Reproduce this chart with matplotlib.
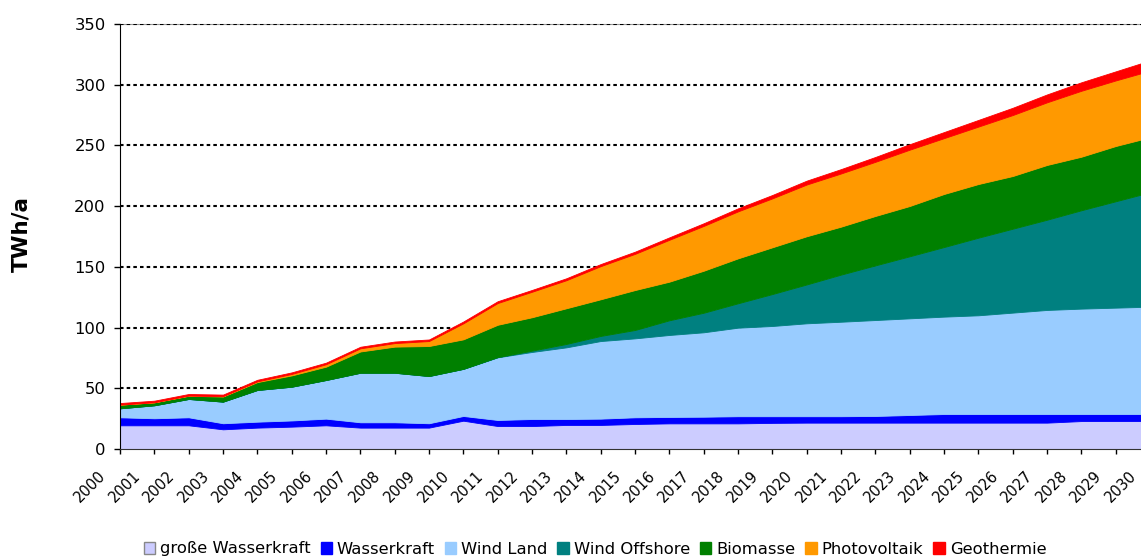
import numpy as np
import matplotlib
matplotlib.use('Agg')
import matplotlib.pyplot as plt
from matplotlib.patches import Patch
from matplotlib.transforms import ScaledTranslation

years = list(range(2000, 2031))

# TWh/a per source
gross_hydro = [19.5, 19.5, 19.5, 16.2, 17.6, 18.4, 19.5, 17.6, 17.6, 17.6,
               23.3, 18.9, 18.9, 19.8, 19.8, 20.6, 21.1, 21.1, 21.1, 21.5,
               21.7, 21.7, 21.7, 21.7, 21.7, 21.7, 21.7, 21.7, 23.0, 23.0, 23.0]
hydro = [6.6, 5.8, 6.6, 5.0, 4.9, 5.1, 5.5, 4.4, 4.4, 3.6,
         3.9, 5.0, 5.8, 4.9, 5.2, 5.5, 5.3, 5.5, 5.9, 5.5,
         5.3, 5.3, 5.5, 6.3, 7.1, 7.1, 7.1, 7.1, 5.8, 5.8, 5.8]
wind_land = [7.4, 10.7, 15.1, 17.8, 26.1, 27.8, 31.8, 40.8, 40.8, 38.9,
             38.8, 51.6, 55.2, 59.0, 63.9, 65.0, 67.5, 69.5, 72.9, 74.3,
             76.5, 77.8, 79.0, 79.6, 80.2, 81.3, 83.5, 85.7, 86.8, 87.6, 88.4]
wind_offshore = [0, 0, 0, 0, 0, 0, 0, 0, 0, 0,
                 0, 0.2, 1.1, 2.8, 4.2, 6.9, 12.1, 16.1, 20.1, 26.3,
                 32.0, 38.8, 45.0, 51.1, 57.3, 63.9, 69.1, 74.3, 81.0, 87.6, 94.2]
biomass = [3.0, 2.4, 2.6, 4.2, 6.5, 9.3, 11.0, 17.5, 21.5, 24.7,
           24.3, 26.6, 27.5, 29.4, 30.2, 32.9, 31.8, 34.6, 37.0, 38.5,
           39.7, 39.5, 40.7, 41.4, 43.7, 44.2, 43.4, 45.1, 44.1, 45.5, 45.3]
pv = [0.05, 0.1, 0.2, 0.3, 0.6, 1.2, 2.0, 2.6, 2.9, 4.1,
      13.2, 17.9, 21.0, 23.1, 27.3, 29.8, 34.5, 36.9, 38.7, 40.3,
      42.6, 43.8, 44.6, 46.4, 46.0, 47.3, 50.2, 51.6, 54.3, 54.0, 54.8]
geo = [1.3, 1.3, 1.3, 1.3, 1.3, 1.3, 1.3, 1.3, 1.3, 1.3,
       1.5, 1.5, 1.5, 1.6, 1.7, 1.8, 2.0, 2.2, 2.5, 2.8,
       3.2, 3.6, 4.0, 4.5, 5.0, 5.5, 6.0, 6.5, 7.0, 7.5, 8.5]

labels = ['große Wasserkraft', 'Wasserkraft', 'Wind Land', 'Wind Offshore',
          'Biomasse', 'Photovoltaik', 'Geothermie']
colors = ['#CCCCFF', '#0000FF', '#99CCFF', '#008080', '#008000', '#FF9900', '#FF0000']

plt.rcParams['font.family'] = 'DejaVu Sans'

fig = plt.figure(figsize=(11.41, 5.59), dpi=100)
# plot area runs past the right edge, like the cropped original
ax = fig.add_axes([120 / 1141, 110 / 559, 1030 / 1141, 425 / 559])

series = [gross_hydro, hydro, wind_land, wind_offshore, biomass, pv, geo]
polys = ax.stackplot(years, *series, colors=colors, linewidth=0.6)
for p, c in zip(polys, colors):
    p.set_edgecolor(c)

ax.set_xlim(2000, 2030)
ax.set_ylim(0, 350)
ax.set_yticks(range(0, 351, 50))
ax.set_xticks(years)
ax.set_xticklabels([str(y) for y in years], rotation=45, ha='right', fontsize=10.5)

ax.tick_params(axis='y', labelsize=11.8, length=4.3, pad=6, width=1)
ax.tick_params(axis='x', length=3.6, pad=10, width=1)

# shift year labels a bit to the left of their ticks (after tick_params, which resets transforms)
offset = ScaledTranslation(-11 / 100, 0, fig.dpi_scale_trans)
for lbl in ax.get_xticklabels():
    lbl.set_transform(lbl.get_transform() + offset)

ax.set_axisbelow(True)
ax.yaxis.grid(True, color='black', linestyle=(0, (1.7, 1.5)), linewidth=1.5)

ax.spines['right'].set_visible(False)
ax.spines['top'].set_color('#999999')
ax.spines['top'].set_zorder(0.4)
ax.spines['left'].set_color('black')
ax.spines['bottom'].set_color('#333333')

fig.text(21 / 1141, 1 - 234 / 559, 'TWh/a', rotation=90, fontsize=15.5,
         fontweight='bold', ha='center', va='center')

handles = [Patch(facecolor=c, edgecolor=('#888888' if i == 0 else c))
           for i, c in enumerate(colors)]
fig.legend(handles, labels, loc='center', bbox_to_anchor=(595 / 1141, 1 - 549 / 559),
           ncol=7, frameon=False, fontsize=11.8, handlelength=0.7, handleheight=0.7,
           handletextpad=0.3, columnspacing=0.6, borderpad=0)

fig.savefig('out.png', dpi=100)
